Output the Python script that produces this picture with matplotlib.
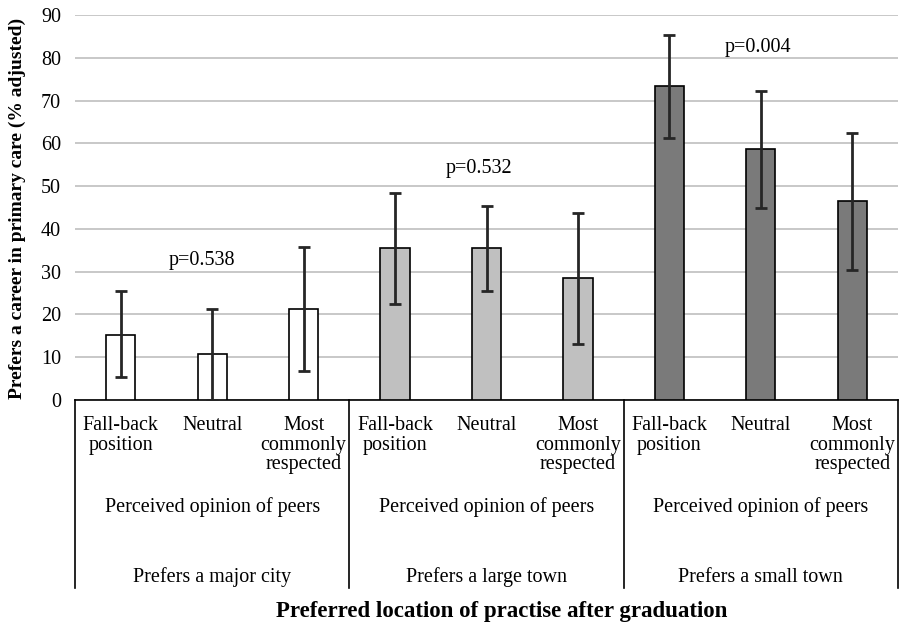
import numpy as np
import matplotlib
matplotlib.use("Agg")
import matplotlib.pyplot as plt

# --- data -------------------------------------------------------------------
groups = ["Prefers a major city", "Prefers a large town", "Prefers a small town"]
opinions = ["Fall-back\nposition", "Neutral", "Most\ncommonly\nrespected"]
values = [15.2, 10.7, 21.3, 35.5, 35.6, 28.5, 73.5, 58.7, 46.5]
err_low = [5.3, 0.0, 6.7, 22.5, 25.4, 13.2, 61.3, 44.8, 30.4]
err_high = [25.5, 21.2, 35.8, 48.3, 45.4, 43.6, 85.3, 72.3, 62.4]
p_labels = ["p=0.538", "p=0.532", "p=0.004"]
p_y = [32.6, 54.0, 82.4]

colors = ["#ffffff", "#c0c0c0", "#7a7a7a"]

plt.rcParams["font.family"] = ["Liberation Serif", "DejaVu Serif"]
FS = 14.5

fig = plt.figure(figsize=(9.02, 6.25), dpi=100)
ax = fig.add_axes([75 / 902, 1 - 400 / 625, 823 / 902, 385 / 625])

x = np.arange(len(values))
vals = np.array(values)
yerr = np.vstack([vals - np.array(err_low), np.array(err_high) - vals])
bar_colors = [colors[i // 3] for i in x]
ax.bar(x, vals, width=0.32, color=bar_colors, edgecolor="black", linewidth=1.2, zorder=3)
ax.errorbar(x, vals, yerr=yerr, fmt="none", ecolor="#262626", elinewidth=2,
            capsize=4, capthick=2, zorder=4)

ax.set_xlim(-0.5, 8.5)
ax.set_ylim(0, 90)
ax.set_yticks(range(0, 91, 10))
ax.yaxis.grid(True, color="#bfbfbf", linewidth=1.2, zorder=0)
ax.set_axisbelow(True)
for s in ["top", "right", "left"]:
    ax.spines[s].set_visible(False)
ax.spines["bottom"].set_linewidth(1.2)
ax.tick_params(axis="y", length=0, labelsize=FS, pad=10)
ax.set_xticks([])

# p-values sit just left of the middle bar in each group
p_dx = [-0.11, -0.08, -0.03]
for g in range(3):
    ax.text(g * 3 + 1 + p_dx[g], p_y[g], p_labels[g],
            ha="center", va="center", fontsize=FS)

# multi-level category axis (Excel style)
tr = ax.get_xaxis_transform()
h = 385.0
for xb in [-0.5, 2.5, 5.5, 8.5]:
    ax.plot([xb, xb], [0, -188 / h], transform=tr, color="black", lw=1.2, clip_on=False)
for i in x:
    ax.text(i, -16 / h, opinions[i % 3], transform=tr, ha="center", va="top",
            fontsize=FS, linespacing=1.05)
for g in range(3):
    ax.text(g * 3 + 1, -107 / h, "Perceived opinion of peers", transform=tr,
            ha="center", va="center", fontsize=FS)
    ax.text(g * 3 + 1, -177 / h, groups[g], transform=tr,
            ha="center", va="center", fontsize=FS)

fig.text(502 / 902, 1 - 612 / 625, "Preferred location of practise after graduation",
         ha="center", va="center", fontsize=16.5, fontweight="bold")
fig.text(17 / 902, 1 - 208 / 625, "Prefers a career in primary care (% adjusted)",
         ha="center", va="center", rotation=90, fontsize=14, fontweight="bold")

fig.savefig("out.png", dpi=100)
